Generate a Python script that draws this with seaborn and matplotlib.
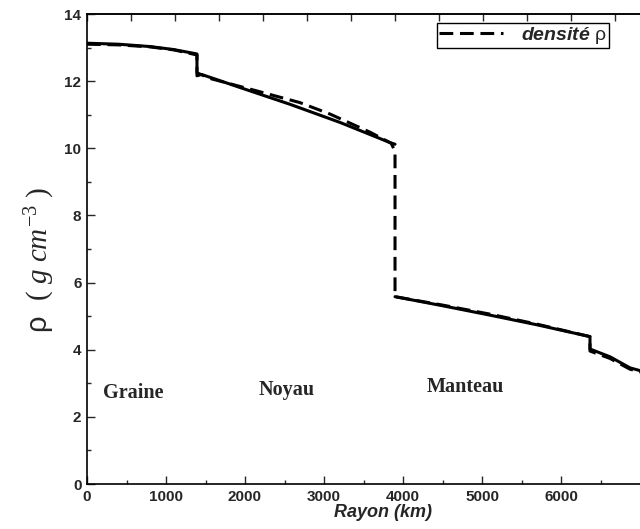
import numpy as np
import pandas as pd
import matplotlib
matplotlib.use("Agg")
import matplotlib.pyplot as plt
import seaborn as sns

# ---- data (in the chart's x-axis units) ----
solid_x = [0, 400, 800, 1100, 1392, 1392, 1450, 1937, 2570, 3203, 3835, 3899]
solid_y = [13.13, 13.10, 13.03, 12.94, 12.81, 12.16, 12.20, 11.81, 11.31, 10.77, 10.17, 10.12]
mantle_x = [3899, 4500, 5100, 5700, 6367, 6367, 6620, 6873, 7150]
mantle_y = [5.58, 5.31, 5.03, 4.74, 4.39, 4.02, 3.79, 3.46, 3.28]

dash_x = [0, 400, 800, 1100, 1392, 1392, 1557, 2148, 2696, 3076, 3582, 3850, 3899,
          3899, 4500, 5100, 5700, 6367, 6367, 6620, 6873, 7150]
dash_y = [13.10, 13.08, 13.02, 12.93, 12.78, 12.25, 12.08, 11.71, 11.36, 11.02, 10.48, 10.15, 9.91,
          5.58, 5.33, 5.06, 4.76, 4.39, 3.96, 3.74, 3.42, 3.25]

region_names = ["Graine", "Noyau", "Manteau"]
region_x = [582, 2532, 4785]
region_y = [2.72, 2.81, 2.90]

x_ticks = [0, 1000, 2000, 3000, 4000, 5000, 6000]
y_ticks = [0, 2, 4, 6, 8, 10, 12, 14]

solid_df = pd.DataFrame({
    "x": solid_x + mantle_x,
    "y": solid_y + mantle_y,
    "seg": [0] * len(solid_x) + [1] * len(mantle_x),
})
dash_df = pd.DataFrame({"x": dash_x, "y": dash_y, "seg": 0})

sns.set_style("ticks")
plt.rcParams["font.family"] = ["Liberation Sans", "DejaVu Sans"]
plt.rcParams["mathtext.fontset"] = "custom"
plt.rcParams["mathtext.rm"] = "Liberation Serif"
plt.rcParams["mathtext.sf"] = "Liberation Sans"
plt.rcParams["mathtext.it"] = "Liberation Serif:italic"
plt.rcParams["mathtext.bf"] = "Liberation Serif:bold"

fig = plt.figure(figsize=(6.4, 5.29), dpi=100)
W, H = 640, 529
ax = fig.add_axes([87 / W, 45 / H, 7.5 * 79 / W, 470 / H])

sns.lineplot(data=solid_df, x="x", y="y", units="seg", estimator=None, sort=False,
             color="black", lw=2.2, ax=ax)
sns.lineplot(data=dash_df, x="x", y="y", units="seg", estimator=None, sort=False,
             color="black", lw=2.2, ax=ax, dashes=False)
dline = ax.lines[-1]
dline.set_dashes([4.5, 2.2])

ax.set_xlim(0, 7500)
ax.set_ylim(0, 14)
ax.set_xticks(x_ticks)
ax.set_xticks(np.arange(500, 7000, 1000), minor=True)
ax.set_yticks(y_ticks)
ax.set_yticks(np.arange(1, 14, 2), minor=True)
ax.tick_params(which="major", direction="in", length=6, width=1, labelsize=11, pad=4)
ax.tick_params(which="minor", direction="in", length=3, width=1)
for lab in ax.get_xticklabels() + ax.get_yticklabels():
    lab.set_fontweight("bold")
ax.spines["right"].set_visible(False)
for s in ["left", "bottom", "top"]:
    ax.spines[s].set_linewidth(1.2)
    ax.spines[s].set_color("black")

sec = ax.secondary_xaxis("top", functions=(lambda v: v * 0.8977, lambda v: v / 0.8977))
sec.set_xticks(np.arange(0, 7000, 500))
sec.tick_params(direction="in", length=5, width=1, labeltop=False)
sec.spines["top"].set_linewidth(1.2)

ax.set_xlabel("Rayon (km)", fontsize=13, fontweight="bold", fontstyle="italic", labelpad=0)
ax.set_ylabel("")
fig.text(40 / W, 1 - 260 / H, r"ρ  $(\ g\ cm^{-3}\ )$", rotation=90,
         fontsize=21, ha="center", va="center")

for name, xv, yv in zip(region_names, region_x, region_y):
    ax.text(xv, yv, name, fontsize=14.5, fontweight="bold", family="Liberation Serif",
            ha="center", va="center")

leg_props = {"weight": "bold", "style": "italic", "size": 14}
leg = ax.legend([dline], [r"densité $\mathsf{\rho}$"], loc="upper left",
                bbox_to_anchor=(437 / W, 1 - 23 / H), bbox_transform=fig.transFigure,
                borderaxespad=0, fancybox=False, framealpha=1, edgecolor="black",
                prop=leg_props, handlelength=3.3, borderpad=0.1, handletextpad=0.9)
leg.get_frame().set_linewidth(1.0)

fig.savefig("out.png", dpi=100)
